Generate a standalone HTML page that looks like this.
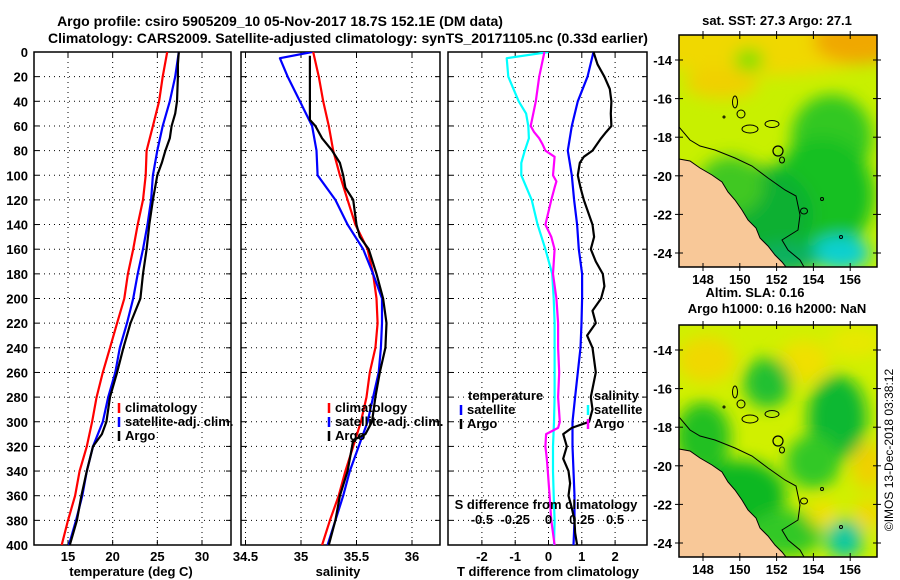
<!DOCTYPE html>
<html><head><meta charset="utf-8">
<style>
body{margin:0;background:#fff;width:900px;height:580px;overflow:hidden}
svg{display:block;font-family:"Liberation Sans",Arial,sans-serif;font-weight:bold}
</style></head>
<body>
<svg id="chart" width="900" height="580" viewBox="0 0 900 580" xmlns="http://www.w3.org/2000/svg">
<defs>
<filter id="blur1" x="-20%" y="-20%" width="140%" height="140%"><feGaussianBlur stdDeviation="8"/></filter>
<clipPath id="clipTop"><rect x="679" y="35" width="198" height="232"/></clipPath>
<clipPath id="clipBot"><rect x="679" y="325" width="198" height="232"/></clipPath>
<clipPath id="cp1"><rect x="34" y="52" width="197" height="493"/></clipPath>
<clipPath id="cp2"><rect x="241" y="52" width="199" height="493"/></clipPath>
<clipPath id="cp3"><rect x="448" y="52" width="199" height="493"/></clipPath>
</defs>
<text x="280" y="26" font-size="14" text-anchor="middle">Argo profile: csiro 5905209_10 05-Nov-2017 18.7S 152.1E (DM data)</text>
<text x="348" y="43" font-size="14" text-anchor="middle">Climatology: CARS2009. Satellite-adjusted climatology: synTS_20171105.nc (0.33d earlier)</text>
<g id="p1"></g>
<g id="p2"></g>
<g id="p3"></g>
<g id="maps"></g>
<text transform="translate(893,450) rotate(-90)" font-size="12" font-weight="normal" text-anchor="middle">©IMOS 13-Dec-2018 03:38:12</text>
</svg>
<script>
// ---------- data ----------
const depthT = [0,20,40,60,80,100,120,140,160,180,200,220,240,260,280,300,320,340,360,380,400];
const tempClim = [26.1,25.6,25.2,24.5,23.8,23.7,23.4,22.8,22.3,21.7,21.3,20.5,19.7,18.9,18.2,17.7,17.1,16.3,15.8,15.0,14.3];
const tempSat = [27.4,27.0,26.4,25.6,25.0,24.5,24.3,23.9,23.4,22.8,22.3,21.6,20.8,20.3,19.5,18.9,17.8,17.1,16.6,15.9,15.1];
const depthTArgo = [0,10,20,40,50,60,70,80,90,100,120,140,160,180,200,220,240,260,280,300,310,320,340,360,380,400];
const tempArgo = [27.4,27.3,27.3,27.2,27.0,26.6,26.4,25.9,25.5,25.0,24.5,24.1,23.8,23.4,23.1,22.0,21.2,20.5,19.7,19.3,18.8,17.8,17.1,16.5,16.0,15.2];
const salClim = [35.11,35.16,35.20,35.25,35.29,35.35,35.42,35.49,35.60,35.65,35.68,35.69,35.67,35.62,35.59,35.54,35.47,35.40,35.34,35.26,35.19];
const depthSSat = [0,5,20,40,60,80,100,120,140,160,180,200,220,240,260,280,300,320,340,360,380,400];
const salSat = [35.10,34.81,34.88,34.99,35.10,35.14,35.15,35.31,35.42,35.56,35.65,35.73,35.73,35.72,35.70,35.65,35.60,35.52,35.44,35.38,35.31,35.24];
const depthSArgo = [3,55,60,70,80,90,100,110,120,140,150,160,180,200,220,240,260,280,300,310,315,340,360,380,400];
const salArgo = [35.08,35.08,35.13,35.19,35.28,35.35,35.38,35.40,35.47,35.50,35.53,35.61,35.68,35.74,35.77,35.76,35.71,35.67,35.64,35.58,35.47,35.42,35.35,35.31,35.25];
const depthDT = [0,20,40,60,80,100,120,140,160,180,200,220,240,260,280,300,320,340,360,380,400];
const dTSat = [1.35,1.17,0.88,0.70,0.58,0.70,0.77,0.86,0.91,1.01,1.01,0.99,0.96,0.88,0.80,0.72,0.72,0.75,0.78,0.78,0.75];
const depthDTArgo = [0,10,20,30,40,50,60,65,70,80,85,90,100,110,120,140,150,160,170,180,190,200,210,220,230,240,260,280,290,300,305,310,320,330,340,350,360,370,380,390,400];
const dTArgo = [1.35,1.47,1.68,1.84,1.89,1.87,1.89,1.73,1.58,1.32,1.06,0.94,0.88,0.96,1.06,1.32,1.37,1.27,1.42,1.63,1.68,1.58,1.32,1.42,1.16,1.32,1.42,1.27,1.32,1.22,0.70,0.44,0.55,0.44,0.60,0.65,0.60,0.70,0.78,0.80,0.86];
const depthDS = [0,5,20,40,50,60,70,80,90,100,120,140,160,180,200,220,240,260,280,300,320,340,360,380,400];
const dSSat = [0,-0.314,-0.302,-0.224,-0.168,-0.152,-0.147,-0.178,-0.204,-0.204,-0.126,-0.082,-0.023,0.028,0.039,0.046,0.046,0.046,0.046,0.041,0.034,0.034,0.039,0.046,0.041];
const depthDSArgo = [0,20,40,60,65,70,75,80,85,100,105,110,120,140,150,160,180,200,220,240,260,280,300,305,310,320,330,340,360,380,400];
const dSArgo = [-0.031,-0.070,-0.095,-0.134,-0.108,-0.070,-0.044,-0.023,0.046,0.034,0.059,0.046,0.021,-0.023,0.021,0.046,0.034,0.059,0.072,0.072,0.080,0.072,0.085,0.072,-0.018,-0.023,-0.013,-0.005,0.008,0.021,0.046];
const depthTicks = [0,20,40,60,80,100,120,140,160,180,200,220,240,260,280,300,320,340,360,380,400];
const tTicks = [15,20,25,30];
const sTicks = [34.5,35,35.5,36];
const dTTicks = [-2,-1,0,1,2];
const dSTicks = [-0.5,-0.25,0,0.25,0.5];
const dSTickLabels = ["-0.5","-0.25","0","0.25","0.5"];
const lonTicks = [148,150,152,154,156];
const latTicks = [-14,-16,-18,-20,-22,-24];

// ---------- axes ----------
const Y0=52, Y1=545;
const yD = d => Y0 + d*(Y1-Y0)/400;
const xT = t => 68 + (t-15)*(202-68)/15;
const xS = s => 301 + (s-35)*(412-301)/1;
const xDT = t => 548.5 + t*33.3;
const xDS = s => xDT(s*4);
const NS='http://www.w3.org/2000/svg';
function el(tag, attrs, parent){const e=document.createElementNS(NS,tag);for(const k in attrs)e.setAttribute(k,attrs[k]);parent.appendChild(e);return e;}
function txt(x,y,s,size,anchor,parent){const t=el('text',{x:x,y:y,'font-size':size,'text-anchor':anchor},parent);t.textContent=s;return t;}

function frame(g, x0, x1, vticks, vfun, labels, showY){
  const grid = el('g',{},g);
  
  
  depthTicks.forEach(d=>{ if(d>0&&d<400) el('line',{x1:x0,x2:x1,y1:yD(d),y2:yD(d),stroke:'#000','stroke-width':1,'stroke-dasharray':'1,4'},grid);
    el('line',{x1:x0,x2:x0+5,y1:yD(d),y2:yD(d),stroke:'#000'},grid);
    el('line',{x1:x1-5,x2:x1,y1:yD(d),y2:yD(d),stroke:'#000'},grid);});
  vticks.forEach(v=>{const x=vfun(v); el('line',{x1:x,x2:x,y1:Y0,y2:Y1,stroke:'#000','stroke-dasharray':'1,4'},grid);
    el('line',{x1:x,x2:x,y1:Y0,y2:Y0+5,stroke:'#000'},grid);el('line',{x1:x,x2:x,y1:Y1-5,y2:Y1,stroke:'#000'},grid);});
  const r=el('rect',{x:x0,y:Y0,width:x1-x0,height:Y1-Y0,fill:'none',stroke:'#000','stroke-width':1.5},g);
  
  
  vticks.forEach((v,i)=>{const t=txt(vfun(v),561,labels[i],13,'middle',g);
    
    });
  if(showY){depthTicks.forEach(d=>{const t=txt(28,yD(d)+5,String(d),13,'end',g);
    
    });}
}
function line(g, xs, ds, xf, color, w, clip, name){
  const pts = xs.map((v,i)=>xf(v).toFixed(1)+','+yD(ds[i]).toFixed(1)).join(' ');
  const p=el('polyline',{points:pts,fill:'none',stroke:color,'stroke-width':w,'clip-path':'url(#'+clip+')','stroke-linejoin':'round'},g);
  
  
}
function legend(g,x,y,items){
  items.forEach((it,i)=>{const yy=y+i*14;
    el('line',{x1:x,x2:x,y1:yy-9,y2:yy+1,stroke:it[1],'stroke-width':2.5},g);
    const t=txt(x+6,yy,it[0],13,'start',g);
    
    });
}
const p1=document.getElementById('p1'),p2=document.getElementById('p2'),p3=document.getElementById('p3');
frame(p1,34,231,tTicks,xT,tTicks.map(String),true);
line(p1,tempClim,depthT,xT,'#f00',2.2,'cp1','climatology-temperature-line');
line(p1,tempSat,depthT,xT,'#00f',2.2,'cp1','satellite-temperature-line');
line(p1,tempArgo,depthTArgo,xT,'#000',2.2,'cp1','argo-temperature-line');
legend(p1,119,412,[['climatology','#f00'],['satellite-adj. clim.','#00f'],['Argo','#000']]);
{const t=txt(131,576,'temperature (deg C)',13,'middle',p1);}

frame(p2,241,440,sTicks,xS,['34.5','35','35.5','36'],false);
line(p2,salClim,depthT,xS,'#f00',2.2,'cp2','climatology-salinity-line');
line(p2,salSat,depthSSat,xS,'#00f',2.2,'cp2','satellite-salinity-line');
line(p2,salArgo,depthSArgo,xS,'#000',2.2,'cp2','argo-salinity-line');
legend(p2,329,412,[['climatology','#f00'],['satellite-adj. clim.','#00f'],['Argo','#000']]);
{const t=txt(338,576,'salinity',13,'middle',p2);}

frame(p3,448,647,dTTicks,xDT,dTTicks.map(String),false);
line(p3,dSSat,depthDS,xDS,'#0ff',2.2,'cp3','salinity-satellite-diff-line');
line(p3,dSArgo,depthDSArgo,xDS,'#f0f',2.2,'cp3','salinity-argo-diff-line');
line(p3,dTSat,depthDT,xDT,'#00f',2.2,'cp3','temperature-satellite-diff-line');
line(p3,dTArgo,depthDTArgo,xDT,'#000',2.2,'cp3','temperature-argo-diff-line');
{const t=txt(468,400,'temperature',13,'start',p3);}
legend(p3,461,414,[['satellite','#00f'],['Argo','#000']]);
{const t=txt(594,400,'salinity',13,'start',p3);}
legend(p3,588,414,[['satellite','#0ff'],['Argo','#f0f']]);
{const t=txt(546,509,'S difference from climatology',13,'middle',p3);}
dSTicks.forEach((v,i)=>{const t=txt(xDS(v),524,dSTickLabels[i],13,'middle',p3);
  
  });
{const t=txt(548,576,'T difference from climatology',13,'middle',p3);}

// ---------- maps ----------
const maps=document.getElementById('maps');
const mx = lon => 703 + (lon-148)*18.4;
const my = (lat,off) => 60 + (-14-lat)*19.3 + off;
function map(off, clip, base, blobs, title1, title2, name){
  const g=el('g',{},maps);
  
  
  const c=el('g',{'clip-path':'url(#'+clip+')'},g);
  el('rect',{x:679,y:35+off,width:198,height:232,fill:base},c);
  const b=el('g',{filter:'url(#blur1)'},c);
  blobs.forEach(o=>el('ellipse',{cx:mx(o[0]),cy:my(o[1],off),rx:o[2]*18.4,ry:o[3]*19.3,fill:o[4]},b));
  const land=[[679,159],[690,161],[700,168],[712,175],[722,182],[728,192],[735,200],[742,210],[748,220],[756,228],[760,238],[768,246],[775,255],[782,262],[786,267],[679,267]];
  el('polygon',{points:land.map(p=>p[0]+','+(p[1]+off)).join(' '),fill:'#f8c898',stroke:'#000','stroke-width':1},c);
  const shelf=[[679,127],[690,140],[700,146],[715,150],[735,158],[752,166],[768,178],[785,190],[796,196],[800,215],[798,230],[782,240],[788,250],[800,260],[804,267]];
  el('polyline',{points:shelf.map(p=>p[0]+','+(p[1]+off)).join(' '),fill:'none',stroke:'#000','stroke-width':1},c);
  [[735,102,2.5,6],[741,114,4,4],[750,129,8,4],[772,124,7,3.5],[804,211,3.5,3],[724,117,1,1],[822,199,1.5,1.5],[841,237,1.5,1.5]].forEach(r=>
    el('ellipse',{cx:r[0],cy:r[1]+off,rx:r[2],ry:r[3],fill:'none',stroke:'#000','stroke-width':1},c));
  const m=el('circle',{cx:778,cy:151+off,r:5,fill:'none',stroke:'#000','stroke-width':1.2},g);
  
  
  el('ellipse',{cx:782,cy:160+off,rx:2.5,ry:3,fill:'none',stroke:'#000'},g);
  el('rect',{x:679,y:35+off,width:198,height:232,fill:'none',stroke:'#000','stroke-width':1.5},g);
  lonTicks.forEach(l=>{const x=mx(l);el('line',{x1:x,x2:x,y1:35+off-4,y2:35+off+4,stroke:'#000'},g);el('line',{x1:x,x2:x,y1:267+off-4,y2:267+off+4,stroke:'#000'},g);
    const t=txt(x,284+off,String(l),13,'middle',g);});
  latTicks.forEach(l=>{const y=my(l,off);el('line',{x1:675,x2:683,y1:y,y2:y,stroke:'#000'},g);el('line',{x1:873,x2:881,y1:y,y2:y,stroke:'#000'},g);
    const t=txt(672,y+5,String(l),13,'end',g);});
  const t1=txt(title2?755:777,off===0?25:297,title1,13,'middle',g);
  if(title2){const t2=txt(777,313,title2,13,'middle',g);}
}
map(0,'clipTop','#c8f000',[
  [151,-13.2,7,1.6,'#f0d800'],[156.5,-13.0,2.5,1.2,'#f0a800'],[149,-15.2,2,0.8,'#f0d000'],
  [155,-18,2.2,2.2,'#30c820'],[154.5,-21,2.8,3,'#18c020'],[151,-22,3,2.5,'#10b030'],
  [149.5,-20.5,1.8,1.5,'#40c820'],[155.5,-24,1.6,0.9,'#10d0d0'],[152.5,-24.3,1.8,0.8,'#10b060'],[150.5,-14,0.8,0.6,'#80e000']
],'sat. SST: 27.3 Argo: 27.1',null,'sst-map');
map(290,'clipBot','#d0f000',[
  [148.2,-14.5,1.6,1.2,'#f0d800'],[153.5,-14.6,1.4,1.1,'#f0e000'],[156.3,-13.6,1.5,0.8,'#e8e800'],
  [151.5,-15.7,1.3,1.3,'#20c030'],[155.3,-17.5,1.6,2.2,'#10b830'],[154,-19.8,1.5,1.4,'#30c828'],
  [148,-18.5,1.5,1.8,'#20c020'],[150,-21.5,2.5,1.8,'#10b820'],[152.5,-23.5,2,1.2,'#30c828'],
  [155.7,-23.8,1,1,'#10c8a0'],[157,-20,0.9,1.2,'#f0d000'],[157,-22.5,0.8,0.8,'#f0d800'],[154.5,-22.5,0.8,0.7,'#f0e000']
],'Altim. SLA: 0.16','Argo h1000: 0.16 h2000: NaN','sla-map');
</script>
</body></html>
